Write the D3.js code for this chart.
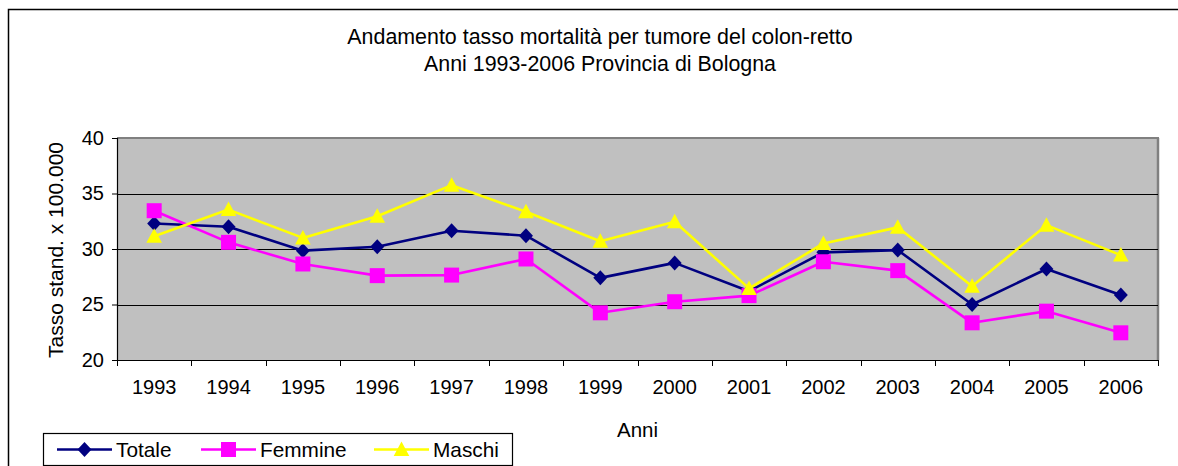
<!DOCTYPE html>
<html><head><meta charset="utf-8">
<script src="https://cdn.jsdelivr.net/npm/d3@7"></script>
<style>
html,body{margin:0;padding:0;background:#fff;}
svg{display:block;font-family:"Liberation Sans",Arial,sans-serif;}
</style></head>
<body>
<svg id="chart" width="1178" height="466"></svg>
<script>
const years = ["1993","1994","1995","1996","1997","1998","1999","2000","2001","2002","2003","2004","2005","2006"];
const totale  = [32.3, 32.0, 29.85, 30.2, 31.65, 31.2, 27.4, 28.75, 26.2, 29.7, 29.9, 25.0, 28.2, 25.85];
const femmine = [33.45, 30.6, 28.65, 27.6, 27.65, 29.1, 24.25, 25.25, 25.8, 28.85, 28.05, 23.35, 24.4, 22.45];
const maschi  = [31.15, 33.55, 31.0, 32.95, 35.75, 33.35, 30.7, 32.45, 26.45, 30.5, 31.95, 26.65, 32.15, 29.45];
const yTicks = [20, 25, 30, 35, 40];
const seriesNames = ["Totale","Femmine","Maschi"];
const seriesColors = ["#000080","#ff00ff","#ffff00"];
const seriesShapes = ["diamond","square","triangle"];
const titleLines = ["Andamento tasso mortalità per tumore del colon-retto","Anni 1993-2006 Provincia di Bologna"];

const svg = d3.select("#chart");
const W = 1178, H = 466;
const plot = {left:117, top:138, right:1158, bottom:360};

// outer chart border (extends beyond image right/bottom)
svg.append("rect").attr("x",8.5).attr("y",9.5).attr("width",W+20).attr("height",H+20)
  .attr("fill","#fff").attr("stroke","#000").attr("stroke-width",1.5);

// title
svg.append("text").attr("x",600).attr("y",44).attr("text-anchor","middle")
  .attr("font-size",21.4).attr("fill","#000").text(titleLines[0]);
svg.append("text").attr("x",600).attr("y",71).attr("text-anchor","middle")
  .attr("font-size",21.4).attr("fill","#000").text(titleLines[1]);

const x = d3.scaleBand().domain(years).range([plot.left, plot.right]).padding(0);
const y = d3.scaleLinear().domain([20,40]).range([plot.bottom, plot.top]);

// plot background
svg.append("rect").attr("x",plot.left).attr("y",plot.top)
  .attr("width",plot.right-plot.left).attr("height",plot.bottom-plot.top)
  .attr("fill","#c0c0c0");
// top and right border gray
svg.append("line").attr("x1",plot.left).attr("x2",plot.right+1).attr("y1",plot.top).attr("y2",plot.top)
  .attr("stroke","#808080").attr("stroke-width",2);
svg.append("line").attr("x1",plot.right).attr("x2",plot.right).attr("y1",plot.top).attr("y2",plot.bottom)
  .attr("stroke","#808080").attr("stroke-width",2.5);

// gridlines
svg.append("g").selectAll("line").data(yTicks.filter(d=>d>20 && d<40)).join("line")
  .attr("x1",plot.left).attr("x2",plot.right)
  .attr("y1",d=>Math.round(y(d))+0.5).attr("y2",d=>Math.round(y(d))+0.5)
  .attr("stroke","#000").attr("stroke-width",1);

// y axis
const yAxis = d3.axisLeft(y).tickValues(yTicks).tickSize(5).tickPadding(8).tickFormat(d3.format("d"));
const gy = svg.append("g").attr("transform",`translate(${plot.left},0)`).call(yAxis);
gy.select(".domain").attr("stroke","#000").attr("stroke-width",1.2);
gy.selectAll(".tick line").attr("stroke","#000");
gy.selectAll(".tick text").attr("font-size",20).attr("fill","#000")
  .attr("font-family","Liberation Sans, Arial, sans-serif");

// x axis
const xAxis = d3.axisBottom(x).tickSize(0).tickPadding(20);
const gx = svg.append("g").attr("transform",`translate(0,${plot.bottom})`).call(xAxis);
gx.select(".domain").attr("stroke","#000").attr("stroke-width",1.2);
gx.selectAll(".tick text").attr("font-size",20).attr("fill","#000")
  .attr("font-family","Liberation Sans, Arial, sans-serif");
// tick marks at band boundaries
const bounds = years.map(d=>x(d)).concat([plot.right]);
svg.append("g").selectAll("line").data(bounds).join("line")
  .attr("x1",d=>Math.round(d)+0.5).attr("x2",d=>Math.round(d)+0.5)
  .attr("y1",plot.bottom).attr("y2",plot.bottom+6)
  .attr("stroke","#000").attr("stroke-width",1);

// axis titles
svg.append("text").attr("transform",`translate(63,${(plot.top+plot.bottom)/2+1}) rotate(-90)`)
  .attr("text-anchor","middle").attr("font-size",21).attr("fill","#000").text("Tasso stand. x 100.000");
svg.append("text").attr("x",(plot.left+plot.right)/2).attr("y",437).attr("text-anchor","middle")
  .attr("font-size",20.5).attr("fill","#000").text("Anni");

// markers
function shapePath(shape){
  if(shape==="diamond") return "M0,-7.5L7,0L0,7.5L-7,0Z";
  if(shape==="square") return "M-7.5,-7.5H7.5V7.5H-7.5Z";
  return "M0,-8L7.8,6.5H-7.8Z";
}

const allSeries = [totale, femmine, maschi];
const line = d3.line().x((d,i)=>x(years[i])+x.bandwidth()/2).y(d=>y(d));
allSeries.forEach((vals,si)=>{
  svg.append("path").datum(vals).attr("d",line).attr("fill","none")
    .attr("stroke",seriesColors[si]).attr("stroke-width",2.6).attr("stroke-linejoin","round");
  svg.append("g").selectAll("path").data(vals).join("path")
    .attr("transform",(d,i)=>`translate(${x(years[i])+x.bandwidth()/2},${y(d)})`)
    .attr("d",shapePath(seriesShapes[si])).attr("fill",seriesColors[si]);
});

// legend
svg.append("rect").attr("x",43.5).attr("y",433.5).attr("width",469).attr("height",32)
  .attr("fill","#fff").attr("stroke","#000").attr("stroke-width",1.2);
const legendX = [57, 201, 374];
seriesNames.forEach((name,si)=>{
  const lx = legendX[si], ly = 449.5;
  svg.append("line").attr("x1",lx).attr("x2",lx+55).attr("y1",ly).attr("y2",ly)
    .attr("stroke",seriesColors[si]).attr("stroke-width",2.6);
  svg.append("path").attr("transform",`translate(${lx+27.5},${ly})`)
    .attr("d",shapePath(seriesShapes[si])).attr("fill",seriesColors[si]);
  svg.append("text").attr("x",lx+59).attr("y",ly+7.5).attr("font-size",20.8).attr("fill","#000").text(name);
});
</script>
</body></html>
